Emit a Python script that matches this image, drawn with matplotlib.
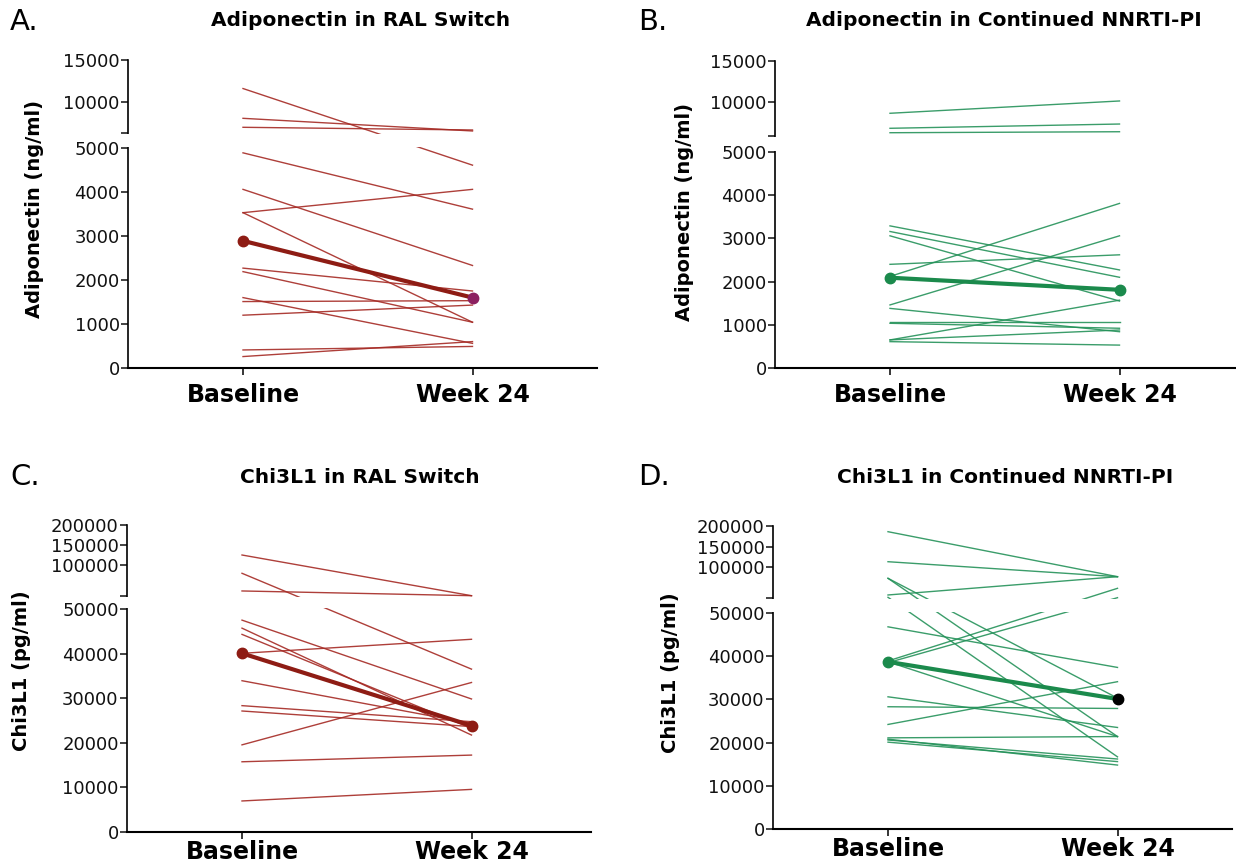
import numpy as np
import matplotlib
matplotlib.use('Agg')
import matplotlib.pyplot as plt
from matplotlib.patches import Rectangle

W, H = 1236, 865

# --- data ---
xlabels = ['Baseline', 'Week 24']

adipo_ral_base = [11600, 8050, 6980, 4890, 4060, 3530, 3530, 2270, 2190, 1600, 1510, 1200, 410, 260]
adipo_ral_wk24 = [4610, 6540, 6660, 3610, 2330, 4060, 1040, 1750, 1040, 560, 1530, 1430, 490, 600]
adipo_ral_mean = [2890, 1600]

adipo_nn_base = [8590, 6760, 6220, 3290, 3160, 3060, 2400, 2120, 1460, 1380, 1070, 1035, 650, 650, 610]
adipo_nn_wk24 = [10090, 7280, 6340, 2270, 2100, 1550, 2620, 3810, 3060, 840, 1070, 920, 1570, 880, 530]
adipo_nn_mean = [2090, 1810]

chi_ral_base = [125000, 89300, 66500, 47500, 45700, 44300, 40050, 33900, 28300, 27100, 19500, 15700, 6900]
chi_ral_wk24 = [60400, 36500, 60400, 29800, 21700, 23200, 43200, 24300, 24700, 23600, 33500, 17200, 9500]
chi_ral_mean = [40050, 23800]

chi_nn_base = [186100, 112900, 63900, 85400, 85400, 60900, 38900, 38500, 46800, 38700,
               30600, 28300, 24200, 21100, 20800, 20600, 20100]
chi_nn_wk24 = [87500, 87500, 87500, 21400, 30300, 16700, 72500, 60400, 37400, 21400,
               23500, 27900, 34100, 21400, 14800, 16200, 15600]
chi_nn_mean = [38700, 30100]

adipo_ticks = [0, 1000, 2000, 3000, 4000, 5000, 10000, 15000]
chi_ticks = [0, 10000, 20000, 30000, 40000, 50000, 100000, 150000, 200000]

RED = '#a52a24'
RED_MEAN = '#8e1c14'
PURPLE = '#8c2060'
GREEN = '#25925a'
GREEN_MEAN = '#1b8a4c'

plt.rcParams['font.family'] = 'DejaVu Sans'


def px_rect(left, bottom, right, top):
    """axes rect from pixel coords (origin top-left)"""
    return [left / W, (H - bottom) / H, (right - left) / W, (bottom - top) / H]


# broken axis: value knots -> pixel height knots (gap between knot 1 and 2)
panels = [
    dict(letter='A.', title='Adiponectin in RAL Switch', ylabel='Adiponectin (ng/ml)',
         rect=(128, 368, 597, 60), vals=[0, 5000, 6300, 15000], hts=[0, 220, 235, 308],
         base=adipo_ral_base, wk=adipo_ral_wk24, mean=adipo_ral_mean, ticks=adipo_ticks,
         thin=RED, mcol=RED_MEAN, m0=RED_MEAN, m1=PURPLE, xpad=6,
         letter_xy=(10, 22), title_xy=(361, 21), ylab_xy=(35, 209)),
    dict(letter='B.', title='Adiponectin in Continued NNRTI-PI', ylabel='Adiponectin (ng/ml)',
         rect=(775, 368, 1235, 60.7), vals=[0, 5000, 5820, 15000], hts=[0, 216, 232, 307.3],
         base=adipo_nn_base, wk=adipo_nn_wk24, mean=adipo_nn_mean, ticks=adipo_ticks,
         thin=GREEN, mcol=GREEN_MEAN, m0=GREEN_MEAN, m1=GREEN_MEAN, xpad=6,
         letter_xy=(638, 22), title_xy=(1004, 21), ylab_xy=(684, 212)),
    dict(letter='C.', title='Chi3L1 in RAL Switch', ylabel='Chi3L1 (pg/ml)',
         rect=(127, 831.7, 591, 525), vals=[0, 50000, 60000, 100000, 200000],
         hts=[0, 222.7, 235.7, 266.7, 306.7],
         base=chi_ral_base, wk=chi_ral_wk24, mean=chi_ral_mean, ticks=chi_ticks,
         thin=RED, mcol=RED_MEAN, m0=RED_MEAN, m1=RED_MEAN, xpad=1,
         letter_xy=(10, 477), title_xy=(360, 478), ylab_xy=(22, 671)),
    dict(letter='D.', title='Chi3L1 in Continued NNRTI-PI', ylabel='Chi3L1 (pg/ml)',
         rect=(773, 829, 1232, 526), vals=[0, 50000, 60000, 100000, 200000],
         hts=[0, 216, 231, 262, 303],
         base=chi_nn_base, wk=chi_nn_wk24, mean=chi_nn_mean, ticks=chi_ticks,
         thin=GREEN, mcol=GREEN_MEAN, m0=GREEN_MEAN, m1='black', xpad=1,
         letter_xy=(638, 477), title_xy=(1005, 478), ylab_xy=(671, 673)),
]

fig = plt.figure(figsize=(W / 100, H / 100), dpi=100)

for p in panels:
    l, b, r, t = p['rect']
    ax = fig.add_axes(px_rect(l, b, r, t))
    vals = np.asarray(p['vals'], float)
    hts = np.asarray(p['hts'], float)
    fwd = lambda v, vals=vals, hts=hts: np.interp(v, vals, hts)
    inv = lambda h, vals=vals, hts=hts: np.interp(h, hts, vals)
    ax.set_yscale('function', functions=(fwd, inv))
    ax.set_ylim(0, vals[-1])

    # x so that Baseline=0, Week 24=1 sit at the reference pixel columns
    unit = 229.5
    ax.set_xlim(-(115 / unit), -(115 / unit) + (r - l) / unit)

    for y0, y1 in zip(p['base'], p['wk']):
        ax.plot([0, 1], [y0, y1], color=p['thin'], lw=1.0, alpha=0.9, zorder=2)
    ax.plot([0, 1], p['mean'], color=p['mcol'], lw=3.0, zorder=4)
    ax.plot([0], [p['mean'][0]], 'o', ms=7.5, color=p['m0'], zorder=5)
    ax.plot([1], [p['mean'][1]], 'o', ms=7.5, color=p['m1'], zorder=5)

    # y ticks, with unlabeled tick at bottom of upper segment
    ticks = list(p['ticks'])
    labels = [str(v) for v in ticks]
    ticks.append(vals[2])
    labels.append('')
    ax.set_yticks(ticks, labels)
    ax.set_xticks([0, 1], xlabels)

    for s in ['top', 'right']:
        ax.spines[s].set_visible(False)
    ax.spines['left'].set_linewidth(1.2)
    ax.spines['bottom'].set_linewidth(1.5)
    ax.tick_params(axis='y', length=5, width=1.1, labelsize=13, pad=1, colors='#111111')
    ax.tick_params(axis='x', length=5, width=1.1, labelsize=17, pad=p['xpad'])
    for lab in ax.get_xticklabels():
        lab.set_fontweight('bold')

    # white gap for the axis break
    hmax = hts[-1]
    f_lo = (hts[1] + 1.2) / hmax
    f_hi = (hts[2] - 1.2) / hmax
    ax.add_patch(Rectangle((-4 / (r - l), f_lo), 1 + 4 / (r - l), f_hi - f_lo,
                           transform=ax.transAxes, facecolor='white', edgecolor='none',
                           zorder=3, clip_on=False))

    lx, ly = p['letter_xy']
    fig.text(lx / W, 1 - ly / H, p['letter'], fontsize=21, ha='left', va='center')
    tx, ty = p['title_xy']
    fig.text(tx / W, 1 - ty / H, p['title'], fontsize=14.5, fontweight='bold',
             ha='center', va='center')
    yx, yy = p['ylab_xy']
    fig.text(yx / W, 1 - yy / H, p['ylabel'], fontsize=14, fontweight='bold',
             rotation=90, ha='center', va='center')

fig.savefig('out.png', dpi=100, facecolor='white')
